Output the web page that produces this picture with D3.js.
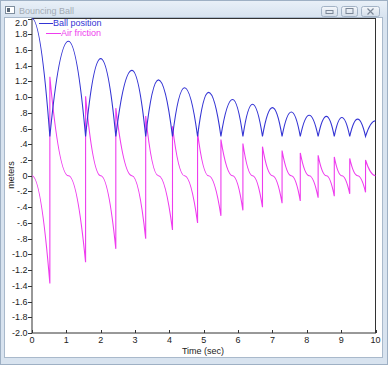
<!DOCTYPE html>
<html>
<head>
<meta charset="utf-8">
<script src="https://cdn.jsdelivr.net/npm/d3@7"></script>
<style>
  body { margin: 0; background: #fff; }
  svg { display: block; }
  text { font-family: "Liberation Sans Narrow", "Arial Narrow", "Liberation Sans", Arial, sans-serif; }
</style>
</head>
<body>
<div id="chart"></div>
<script>
// values
const startHeight = 2.0;
const floorHeight = 0.5;
const bounceTimes = [0.52, 1.56, 2.44, 3.31, 4.09, 4.82, 5.50, 6.14, 6.71, 7.28, 7.81, 8.33, 8.80, 9.25, 9.71];
const peakTimes   = [1.06, 2.00, 2.91, 3.68, 4.44, 5.14, 5.84, 6.42, 7.00, 7.55, 8.07, 8.57, 9.02, 9.48, 10.0];
const peakHeights = [1.71, 1.49, 1.34, 1.22, 1.12, 1.06, 0.97, 0.91, 0.866, 0.81, 0.77, 0.755, 0.74, 0.72, 0.70];
const frictionTops = [1.26, 1.01, 0.86, 0.76, 0.63, 0.55, 0.46, 0.41, 0.37, 0.32, 0.29, 0.26, 0.24, 0.22, 0.20];
const frictionLows = [-1.37, -1.10, -0.93, -0.80, -0.69, -0.60, -0.51, -0.44, -0.40, -0.35, -0.32, -0.28, -0.26, -0.23, -0.21];

const seriesNames = ["Ball position", "Air friction"];
const seriesColors = ["#3434d4", "#ee3cee"];

const xTicks = [0, 1, 2, 3, 4, 5, 6, 7, 8, 9, 10];
const yTicks = [2.0, 1.8, 1.6, 1.4, 1.2, 1.0, 0.8, 0.6, 0.4, 0.2, 0, -0.2, -0.4, -0.6, -0.8, -1.0, -1.2, -1.4, -1.6, -1.8, -2.0];
const yTickLabels = ["2.0", "1.8", "1.6", "1.4", "1.2", "1.0", ".8", ".6", ".4", ".2", "0", "-.2", "-.4", "-.6", "-.8", "-1.0", "-1.2", "-1.4", "-1.6", "-1.8", "-2.0"];

const W = 388, H = 365;
const plot = { left: 32, right: 375.5, top: 18.5, bottom: 333 };

const svg = d3.select("#chart")
    .append("svg")
        .attr("width", W)
        .attr("height", H);

// window chrome
const defs = svg.append("defs");
const tg = defs.append("linearGradient").attr("id", "titleGrad").attr("x1", 0).attr("y1", 0).attr("x2", 0).attr("y2", 1);
tg.append("stop").attr("offset", "0%").attr("stop-color", "#e9f0f8");
tg.append("stop").attr("offset", "100%").attr("stop-color", "#d6e2ef");
const bg = defs.append("linearGradient").attr("id", "btnGrad").attr("x1", 0).attr("y1", 0).attr("x2", 0).attr("y2", 1);
bg.append("stop").attr("offset", "0%").attr("stop-color", "#f4f7fb");
bg.append("stop").attr("offset", "100%").attr("stop-color", "#d3dde9");

svg.append("rect")
    .attr("width", W).attr("height", H)
    .attr("fill", "#d8e3ef");
svg.append("rect")
    .attr("x", 0.5).attr("y", 0.5)
    .attr("width", W - 1).attr("height", 18)
    .attr("fill", "url(#titleGrad)");
svg.append("rect")
    .attr("x", 0.5).attr("y", 0.5)
    .attr("width", W - 1).attr("height", H - 1)
    .attr("fill", "none")
    .attr("stroke", "#9eb0c4");
svg.append("rect")
    .attr("x", 4.5).attr("y", 17.5)
    .attr("width", 378).attr("height", 340)
    .attr("fill", "#fff")
    .attr("stroke", "#a9b9cb");

// title bar icon + text
svg.append("rect")
    .attr("x", 5.5).attr("y", 6.5).attr("width", 9).attr("height", 7)
    .attr("fill", "#fff").attr("stroke", "#7f8e9e");
svg.append("rect")
    .attr("x", 7).attr("y", 8).attr("width", 3).attr("height", 4)
    .attr("fill", "#5a6878");
svg.append("text")
    .attr("x", 19).attr("y", 14)
    .style("font-size", "9px")
    .style("fill", "#a3abb4")
    .text("Bouncing Ball");

// title bar buttons
[[321.5, 16], [341.5, 16], [361.5, 18]].forEach(function(b, i) {
    svg.append("rect")
        .attr("x", b[0]).attr("y", 6.5)
        .attr("width", b[1]).attr("height", 10)
        .attr("rx", 2)
        .attr("fill", "url(#btnGrad)")
        .attr("stroke", "#a3b3c6");
    const cx = b[0] + b[1] / 2;
    if (i === 0) {
        svg.append("rect").attr("x", cx - 3.5).attr("y", 10.5).attr("width", 7).attr("height", 3)
            .attr("fill", "none").attr("stroke", "#7c8898");
    } else if (i === 1) {
        svg.append("rect").attr("x", cx - 3.5).attr("y", 8.5).attr("width", 7).attr("height", 5)
            .attr("fill", "none").attr("stroke", "#7c8898");
    } else {
        svg.append("path")
            .attr("d", `M${cx - 3},${8.5}L${cx + 3},${14.5}M${cx + 3},${8.5}L${cx - 3},${14.5}`)
            .attr("stroke", "#7c8898").attr("stroke-width", 1.2);
    }
});

const x = d3.scaleLinear()
    .domain([0, 10])
    .range([plot.left, plot.right]);

const y = d3.scaleLinear()
    .domain([-2, 2])
    .range([plot.bottom, plot.top]);

// frame
svg.append("rect")
    .attr("x", plot.left).attr("y", plot.top)
    .attr("width", plot.right - plot.left)
    .attr("height", plot.bottom - plot.top)
    .attr("fill", "none")
    .attr("stroke", "#333")
    .attr("stroke-width", 1);

// y ticks (outside), labels
const yAxis = svg.append("g");
yTicks.forEach(function(v, i) {
    const yy = Math.round(y(v)) + 0.5;
    yAxis.append("line")
        .attr("x1", plot.left - 4).attr("x2", plot.left)
        .attr("y1", yy).attr("y2", yy)
        .attr("stroke", "#333");
    yAxis.append("text")
        .attr("x", plot.left - 4.5)
        .attr("y", Math.max(y(v), 23) + 3)
        .attr("text-anchor", "end")
        .style("font-size", "9px")
        .style("fill", "#222")
        .text(yTickLabels[i]);
});

// x ticks (inside), labels
const xAxis = svg.append("g");
xTicks.forEach(function(v) {
    const xx = Math.round(x(v)) + 0.5;
    xAxis.append("line")
        .attr("x1", xx).attr("x2", xx)
        .attr("y1", plot.bottom - 3).attr("y2", plot.bottom)
        .attr("stroke", "#333");
    xAxis.append("text")
        .attr("x", x(v))
        .attr("y", 343)
        .attr("text-anchor", "middle")
        .style("font-size", "9px")
        .style("fill", "#222")
        .text(v);
});

// axis titles
svg.append("text")
    .attr("x", 203)
    .attr("y", 354)
    .attr("text-anchor", "middle")
    .style("font-size", "9px")
    .style("fill", "#222")
    .text("Time (sec)");

svg.append("text")
    .attr("transform", "rotate(-90)")
    .attr("x", -175)
    .attr("y", 14)
    .attr("text-anchor", "middle")
    .style("font-size", "9px")
    .style("fill", "#222")
    .text("meters");

// ball position: parabolic arcs between bounces
const ball = d3.path();
ball.moveTo(x(0), y(startHeight));
ball.quadraticCurveTo(x(bounceTimes[0] / 2), y(startHeight), x(bounceTimes[0]), y(floorHeight));
bounceTimes.forEach(function(t0, i) {
    const tp = peakTimes[i], hp = peakHeights[i];
    ball.quadraticCurveTo(x((t0 + tp) / 2), y(hp), x(tp), y(hp));
    if (i + 1 < bounceTimes.length) {
        const t1 = bounceTimes[i + 1];
        ball.quadraticCurveTo(x((tp + t1) / 2), y(hp), x(t1), y(floorHeight));
    }
});

// air friction: jumps at each bounce, zero at each peak
const fric = d3.path();
fric.moveTo(x(0), y(0));
fric.quadraticCurveTo(x(bounceTimes[0] / 2), y(0), x(bounceTimes[0]), y(frictionLows[0]));
bounceTimes.forEach(function(t0, i) {
    const tp = peakTimes[i];
    fric.lineTo(x(t0), y(frictionTops[i]));
    fric.quadraticCurveTo(x((t0 + tp) / 2), y(0), x(tp), y(0));
    if (i + 1 < bounceTimes.length) {
        const t1 = bounceTimes[i + 1];
        fric.quadraticCurveTo(x((tp + t1) / 2), y(0), x(t1), y(frictionLows[i + 1]));
    }
});

svg.append("path")
    .attr("d", fric.toString())
    .attr("fill", "none")
    .attr("stroke", seriesColors[1])
    .attr("stroke-width", 1.1);

svg.append("path")
    .attr("d", ball.toString())
    .attr("fill", "none")
    .attr("stroke", seriesColors[0])
    .attr("stroke-width", 1.1);

// legend
const legend = [
    { x1: 39, x2: 53, y: 23 },
    { x1: 46, x2: 61, y: 33 }
];
legend.forEach(function(l, i) {
    svg.append("line")
        .attr("x1", l.x1).attr("x2", l.x2)
        .attr("y1", l.y + 0.5).attr("y2", l.y + 0.5)
        .attr("stroke", seriesColors[i]);
    svg.append("text")
        .attr("x", l.x2)
        .attr("y", l.y + 3)
        .style("font-size", "9px")
        .style("fill", seriesColors[i])
        .text(seriesNames[i]);
});
</script>
</body>
</html>
